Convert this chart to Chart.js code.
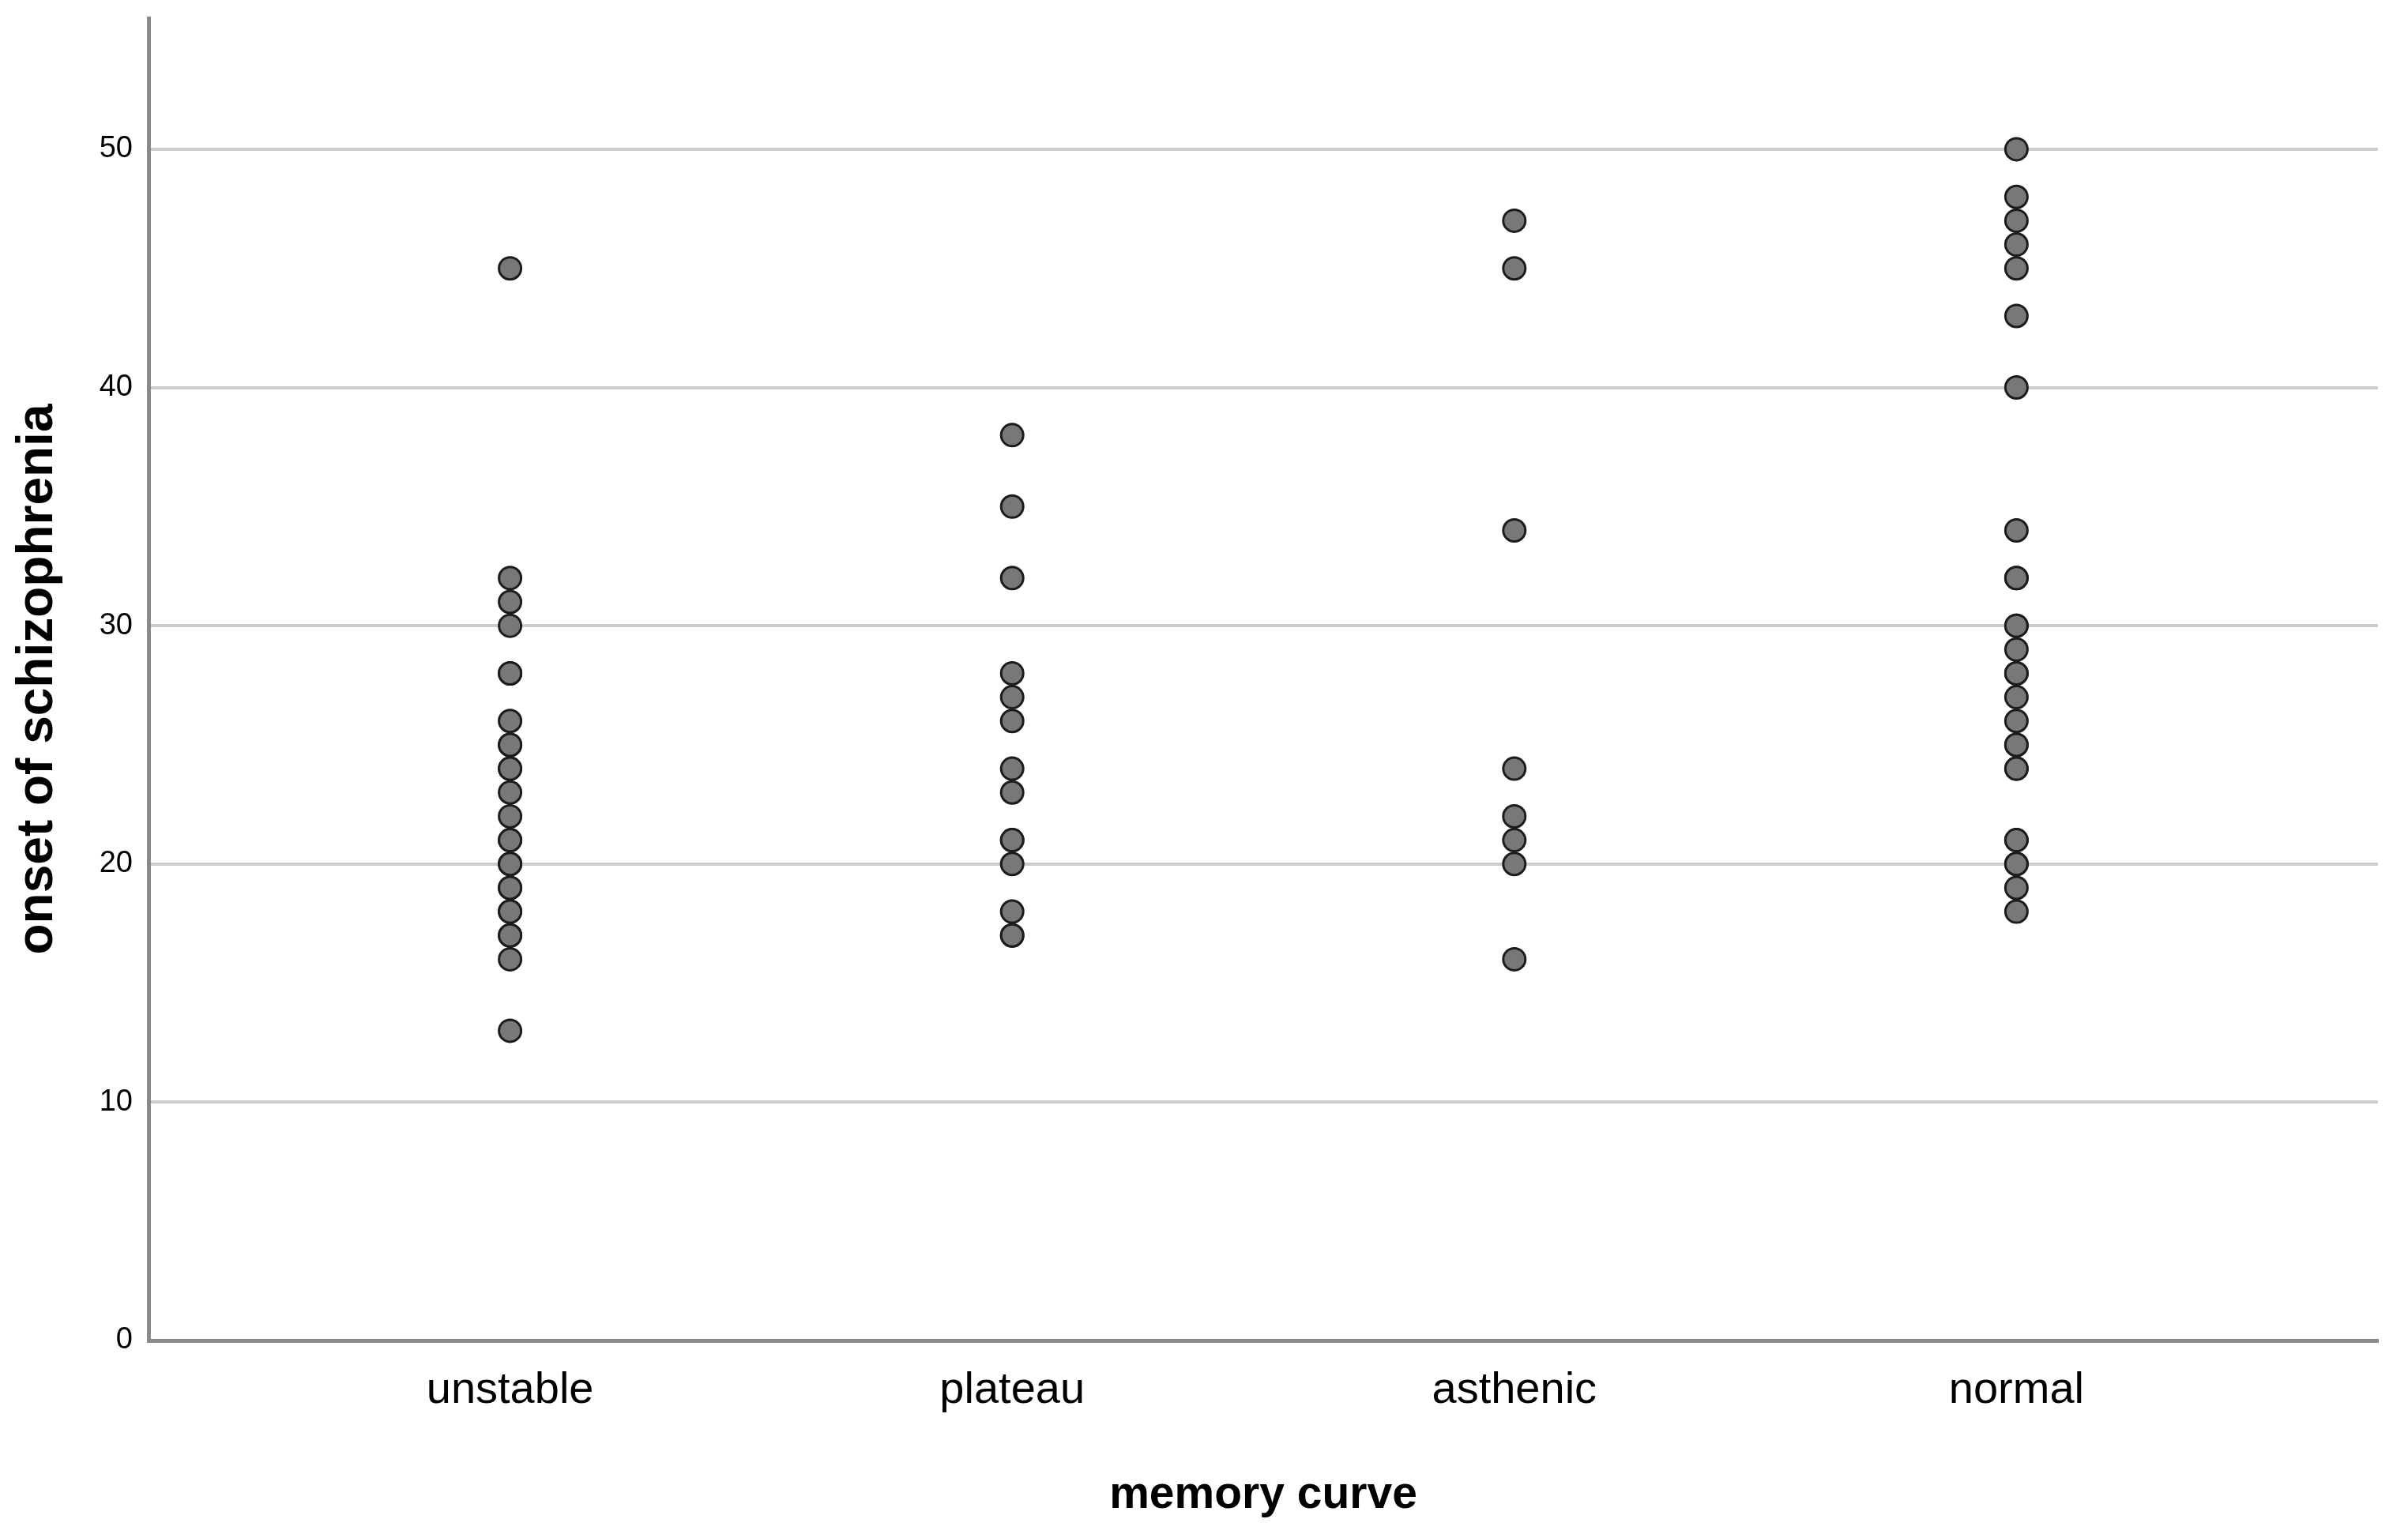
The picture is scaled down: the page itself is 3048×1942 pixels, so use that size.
<!DOCTYPE html>
<html>
<head>
<meta charset="utf-8">
<title>onset of schizophrenia by memory curve</title>
<script src="https://cdn.jsdelivr.net/npm/chart.js@4.4.1/dist/chart.umd.min.js"></script>
<style>
    html, body { margin: 0; padding: 0; background: #fff; }
    canvas { display: block; }
</style>
</head>
<body>
<canvas id="chart" width="3048" height="1942"></canvas>
<script>
const categories = ['unstable', 'plateau', 'asthenic', 'normal'];

// onset age per memory curve group
const unstable = [45, 32, 31, 30, 28, 28, 26, 25, 25, 24, 24, 23, 22, 21, 21, 20, 20, 19, 19, 18, 18, 17, 17, 16, 13];
const plateau = [38, 35, 32, 28, 27, 26, 24, 23, 21, 21, 20, 18, 17, 17];
const asthenic = [47, 45, 34, 24, 22, 21, 20, 16];
const normal = [50, 48, 47, 46, 45, 43, 40, 34, 32, 32, 30, 30, 29, 28, 28, 27, 26, 25, 25, 24, 24, 21, 21, 20, 20, 19, 18];

const yTicks = [0, 10, 20, 30, 40, 50];

const groups = [unstable, plateau, asthenic, normal];
const points = groups.flatMap((values, index) => values.map(v => ({ x: index, y: v })));

Chart.defaults.color = '#000';
Chart.defaults.font.family = "'Liberation Sans', Arial, sans-serif";

new Chart(document.getElementById('chart'), {
    type: 'scatter',
    data: {
        datasets: [
            {
                label: 'onset of schizophrenia',
                data: points,
                pointRadius: 14,
                pointHoverRadius: 14,
                pointBorderWidth: 3,
                backgroundColor: '#787878',
                borderColor: '#1c1c1c'
            }
        ]
    },
    options: {
        responsive: false,
        animation: false,
        layout: {
            padding: { top: 23, right: 38, bottom: 0, left: 0 }
        },
        plugins: {
            legend: { display: false },
            tooltip: { enabled: false }
        },
        scales: {
            x: {
                type: 'linear',
                min: -0.72,
                max: 3.72,
                afterFit(scale) {
                    scale.height = 245;
                },
                afterBuildTicks(scale) {
                    scale.ticks = categories.map((_, i) => ({ value: i }));
                },
                ticks: {
                    padding: 30,
                    font: { size: 56 },
                    callback(value) {
                        return categories[value];
                    }
                },
                grid: { display: false, drawTicks: false },
                border: { color: '#8a8a8a', width: 5 },
                title: {
                    display: true,
                    text: 'memory curve',
                    font: { size: 57, weight: 'bold' },
                    padding: { top: 0, bottom: 15 }
                }
            },
            y: {
                min: 0,
                max: 55.5,
                afterFit(scale) {
                    scale.width = 188;
                    scale.paddingTop = 0;
                    scale.paddingBottom = 0;
                },
                afterBuildTicks(scale) {
                    scale.ticks = yTicks.map(v => ({ value: v }));
                },
                ticks: {
                    padding: 20,
                    font: { size: 38 }
                },
                grid: {
                    drawTicks: false,
                    lineWidth: 4,
                    color(ctx) {
                        return ctx.tick && ctx.tick.value === 0 ? 'rgba(0,0,0,0)' : '#cccccc';
                    }
                },
                border: { color: '#8a8a8a', width: 5 },
                title: {
                    display: true,
                    text: 'onset of schizophrenia',
                    font: { size: 64, weight: 'bold' },
                    padding: { top: 10, bottom: 0 }
                }
            }
        }
    }
});
</script>
</body>
</html>
